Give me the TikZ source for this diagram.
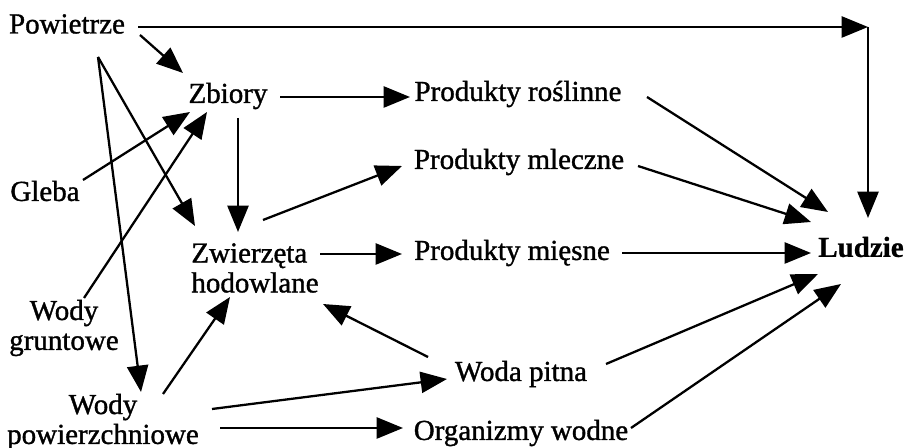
\documentclass[tikz,border=0pt]{standalone}
\usepackage{fontspec}
\setmainfont{Liberation Serif}
\newfontfamily\thickrm{Liberation Serif}[FakeBold=1.2]
\newfontfamily\heavyrm{Liberation Serif Bold}[FakeBold=0.8]
\usetikzlibrary{arrows.meta}

\begin{document}
\begin{tikzpicture}[x=0.02cm, y=-0.02cm,
    lbl/.style={inner sep=0pt, font=\fontsize{16.5}{17}\thickrm},
    arr/.style={line width=1.3pt, -{Triangle[length=15pt,width=12pt]}}]
    \useasboundingbox (0, 0) rectangle (909, 448);

    % sources
    \node[lbl] (pow) at (67, 24) {Powietrze};
    \node[lbl] (gl) at (45, 191) {Gleba};
    \node[lbl, align=center] (wg) at (64, 328) {Wody\\gruntowe};
    \node[lbl, align=center] (wp) at (103, 422) {Wody\\powierzchniowe};

    % middle
    \node[lbl] (zb) at (228, 96) {Zbiory};
    \node[lbl, align=left] (zw) at (255, 268) {Zwierzęta\\hodowlane};
    \node[lbl] (pr) at (518, 94) {Produkty roślinne};
    \node[lbl] (pml) at (519, 162) {Produkty mleczne};
    \node[lbl] (pmi) at (512, 253) {Produkty mięsne};
    \node[lbl] (woda) at (521, 374) {Woda pitna};
    \node[lbl] (org) at (521, 433) {Organizmy wodne};

    % target
    \node[lbl, font=\fontsize{16.5}{17}\heavyrm] (lu) at (861, 247) {Ludzie};
    \coordinate (corner) at (868, 27);

    % air
    \draw[arr] ([shift={(71,3)}]pow.center) -- (corner);
    \draw[arr] (corner) -- ([shift={(7,-29)}]lu.center);
    \draw[arr] ([shift={(73,11)}]pow.center) -- ([shift={(-45,-23)}]zb.center);
    \draw[arr] ([shift={(31,33)}]pow.center) -- ([shift={(-60,-42)}]zw.center);
    \draw[arr] ([shift={(31,33)}]pow.center) -- ([shift={(38,-30)}]wp.center);

    % soil and water into crops
    \draw[arr] ([shift={(38,-11)}]gl.center) -- ([shift={(-38,16)}]zb.center);
    \draw[arr] ([shift={(20,-30)}]wg.center) -- ([shift={(-21,16)}]zb.center);

    % crops and animals
    \draw[arr] ([shift={(52,1)}]zb.center) -- ([shift={(-108,3)}]pr.center);
    \draw[arr] ([shift={(10,22)}]zb.center) -- ([shift={(-17,-36)}]zw.center);
    \draw[arr] ([shift={(8,-48)}]zw.center) -- ([shift={(-117,4)}]pml.center);
    \draw[arr] ([shift={(65,-14)}]zw.center) -- ([shift={(-110,1)}]pmi.center);

    % into people
    \draw[arr] ([shift={(129,3)}]pr.center) -- ([shift={(-33,-35)}]lu.center);
    \draw[arr] ([shift={(119,4)}]pml.center) -- ([shift={(-50,-25)}]lu.center);
    \draw[arr] ([shift={(110,0)}]pmi.center) -- ([shift={(-50,6)}]lu.center);
    \draw[arr] ([shift={(85,-10)}]woda.center) -- ([shift={(-43,27)}]lu.center);
    \draw[arr] ([shift={(110,-5)}]org.center) -- ([shift={(-20,37)}]lu.center);

    % surface water
    \draw[arr] ([shift={(-93,-17)}]woda.center) -- ([shift={(68,36)}]zw.center);
    \draw[arr] ([shift={(109,-13)}]wp.center) -- ([shift={(-74,5)}]woda.center);
    \draw[arr] ([shift={(117,6)}]wp.center) -- ([shift={(-118,-5)}]org.center);
    \draw[arr] ([shift={(60,-28)}]wp.center) -- ([shift={(-25,29)}]zw.center);
\end{tikzpicture}
\end{document}
